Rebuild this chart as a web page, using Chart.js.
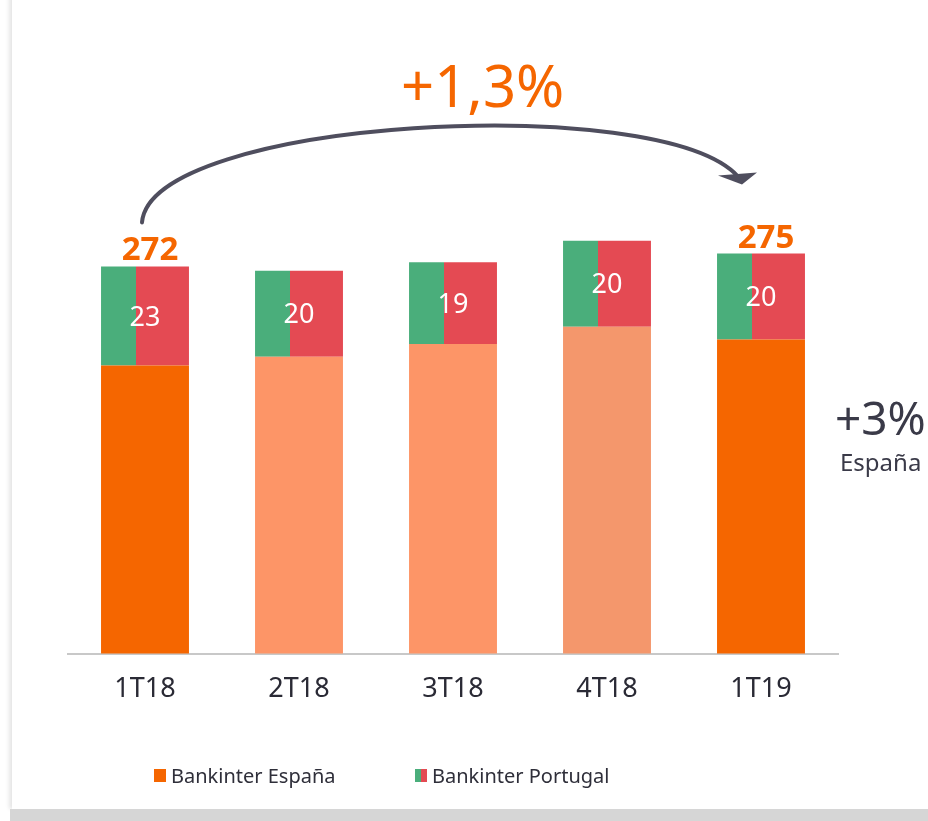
<!DOCTYPE html>
<html>
<head>
<meta charset="utf-8">
<script src="https://cdn.jsdelivr.net/npm/chart.js@4.4.1/dist/chart.umd.min.js"></script>
<style>
  html, body { margin: 0; padding: 0; background: #fff; }
  body { width: 928px; height: 821px; position: relative; overflow: hidden; font-family: "Noto Sans", sans-serif; }
  .card { position: absolute; left: 12px; top: -20px; width: 960px; height: 829px; background: #fff;
          box-shadow: -3px 0 4px rgba(0,0,0,0.10); }
  .band { position: absolute; left: 10px; top: 809px; width: 940px; height: 12px; background: #d6d6d6; }
  #wrap { position: absolute; left: 0; top: 0; width: 928px; height: 821px; }
  .note { position: absolute; white-space: nowrap; line-height: 1; }
  #growth { left: 401px; top: 56px; font-size: 58px; color: #f56600; }
  #spain { left: 835px; top: 394px; font-size: 46px; color: #3a3a48; }
  #spainLbl { left: 840px; top: 450px; font-size: 24px; color: #3a3a48; }
  .legend { position: absolute; top: 762px; font-size: 20px; color: #2f2f3a; display: flex; align-items: center; }
  .legend i { display: inline-block; width: 12px; height: 13px; margin-right: 5px; }
</style>
</head>
<body>
<div class="card"></div>
<div class="band"></div>
<div id="wrap"><canvas id="chart" width="928" height="821"></canvas></div>
<div class="note" id="growth">+1,3%</div>
<div class="note" id="spain">+3%</div>
<div class="note" id="spainLbl">España</div>
<div class="legend" style="left:154px"><i style="background:#f56600"></i>Bankinter España</div>
<div class="legend" style="left:415px"><i style="background:linear-gradient(90deg,#4aae7b 0 50%,#e44a53 50% 100%)"></i>Bankinter Portugal</div>

<script>
// datos del gráfico
const quarters = ["1T18", "2T18", "3T18", "4T18", "1T19"];
const espana = [249, 251, 254, 258, 255];
const portugal = [23, 20, 19, 20, 20];
const showTotal = [true, false, false, false, true];

const espanaColors = ["#f56600", "#fd9567", "#fd9567", "#f4976c", "#f56600"];
const GREEN = "#4aae7b";
const RED = "#e44a53";
const BAR_PCT = 0.571;

// fondo verde/rojo de Portugal (40% verde a la izquierda)
function portugalFill(c) {
  const chart = c.chart;
  const x = chart.scales.x;
  if (!x || c.dataIndex == null) return RED;
  const cx = x.getPixelForValue(c.dataIndex);
  const w = (x.getPixelForValue(1) - x.getPixelForValue(0)) * BAR_PCT;
  if (!isFinite(cx) || !isFinite(w) || w <= 0) return RED;
  const g = chart.ctx.createLinearGradient(cx - w / 2, 0, cx + w / 2, 0);
  g.addColorStop(0, GREEN);
  g.addColorStop(0.4, GREEN);
  g.addColorStop(0.4, RED);
  g.addColorStop(1, RED);
  return g;
}

// etiquetas dentro de barras + totales + flecha
const labelsPlugin = {
  id: 'labels',
  afterDatasetsDraw(chart) {
    const ctx = chart.ctx;
    ctx.save();
    ctx.textAlign = 'center';
    ctx.textBaseline = 'middle';
    ctx.fillStyle = '#fff';
    ctx.font = '27px "Noto Sans"';
    chart.data.datasets.forEach((ds, di) => {
      chart.getDatasetMeta(di).data.forEach((el, i) => {
        ctx.fillText(ds.data[i], el.x, (el.y + el.base) / 2 + 2);
      });
    });

    const top = chart.getDatasetMeta(1).data;
    ctx.fillStyle = '#f56600';
    ctx.font = 'bold 33px "Noto Sans"';
    ctx.textBaseline = 'alphabetic';
    top.forEach((el, i) => {
      if (showTotal[i]) ctx.fillText(espana[i] + portugal[i], el.x + 5, el.y - 6);
    });

    // flecha 1T18 -> 1T19
    const a = top[0], b = top[top.length - 1];
    const x0 = a.x - 3, y0 = a.y - 44;
    const x1 = b.x - 23, y1 = b.y - 77;
    ctx.strokeStyle = '#4f4e5e';
    ctx.fillStyle = '#4f4e5e';
    ctx.lineWidth = 4;
    ctx.lineCap = 'round';
    ctx.beginPath();
    ctx.moveTo(x0, y0);
    ctx.bezierCurveTo(x0 + 8, y0 - 104, x1 - 78, y1 - 86, x1, y1);
    ctx.stroke();
    ctx.beginPath();
    ctx.moveTo(x1 - 20, y1 - 1);
    ctx.lineTo(x1 + 19, y1 - 4);
    ctx.lineTo(x1 + 4, y1 + 8);
    ctx.closePath();
    ctx.fill();
    ctx.restore();
  }
};

new Chart(document.getElementById('chart'), {
  type: 'bar',
  data: {
    labels: quarters,
    datasets: [
      { label: 'Bankinter España', data: espana, backgroundColor: espanaColors, borderWidth: 0 },
      { label: 'Bankinter Portugal', data: portugal, backgroundColor: portugalFill, borderWidth: 0 }
    ]
  },
  options: {
    responsive: false,
    animation: false,
    events: [],
    layout: { padding: { left: 68, right: 90, top: 146, bottom: 95 } },
    datasets: { bar: { categoryPercentage: 1, barPercentage: BAR_PCT } },
    scales: {
      x: {
        stacked: true,
        grid: { display: false, drawTicks: false },
        border: { display: true, color: '#c8c8c8', width: 2 },
        ticks: { color: '#2a2a35', font: { family: 'Noto Sans', size: 27 }, padding: 20 }
      },
      y: { stacked: true, display: false, min: 182, max: 300 }
    },
    plugins: { legend: { display: false }, tooltip: { enabled: false } }
  },
  plugins: [labelsPlugin]
});
</script>
</body>
</html>
